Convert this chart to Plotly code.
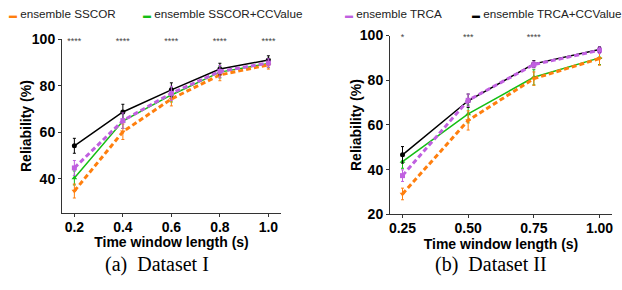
import plotly.graph_objects as go

# ---------------- data ----------------
series_names = ["ensemble SSCOR", "ensemble SSCOR+CCValue", "ensemble TRCA", "ensemble TRCA+CCValue"]

x_d1 = [0.2, 0.4, 0.6, 0.8, 1.0]
x_d1_ticklabels = ["0.2", "0.4", "0.6", "0.8", "1.0"]
d1_sscor = [34.8, 60.2, 74.3, 84.6, 88.9]
d1_sscor_cc = [40.4, 64.8, 76.0, 85.8, 89.5]
d1_trca = [44.7, 65.0, 76.7, 86.1, 89.7]
d1_trca_cc = [54.2, 68.7, 78.2, 87.1, 91.0]
d1_sscor_err = [3.0, 3.3, 3.0, 2.5, 1.8]
d1_sscor_cc_err = [3.0, 3.2, 3.0, 2.5, 1.8]
d1_trca_err = [3.2, 3.3, 3.0, 2.5, 1.8]
d1_trca_cc_err = [3.2, 3.3, 3.0, 2.5, 1.8]
d1_sig = ["****", "****", "****", "****", "****"]

x_d2 = [0.25, 0.50, 0.75, 1.00]
x_d2_ticklabels = ["0.25", "0.50", "0.75", "1.00"]
d2_sscor = [29.1, 62.0, 80.7, 89.7]
d2_sscor_cc = [43.6, 64.9, 81.3, 90.0]
d2_trca = [37.3, 71.0, 87.0, 93.4]
d2_trca_cc = [46.6, 70.8, 87.3, 93.7]
d2_sscor_err = [2.6, 4.3, 3.0, 3.0]
d2_sscor_cc_err = [3.0, 4.0, 3.4, 3.0]
d2_trca_err = [2.6, 2.8, 1.5, 1.5]
d2_trca_cc_err = [3.7, 3.0, 1.5, 1.3]
d2_sig = ["*", "***", "****", ""]

y_d1_ticks = [40, 60, 80, 100]
y_d2_ticks = [20, 40, 60, 80, 100]

x_title = "Time window length (s)"
y_title = "Reliability (%)"
captions = ["(a)  Dataset I", "(b)  Dataset II"]

# ---------------- style ----------------
W, H = 622, 290
colors = ["#FF7F0E", "#14BE14", "#C060E0", "#000000"]
symbols = ["triangle-down", "triangle-up", "square", "circle"]
dashes = ["5px,3px", "solid", "5px,3px", "solid"]
widths = [3, 1.5, 3, 1.5]
draw_order = [1, 0, 3, 2]

SANS = "Liberation Sans, Arial, Helvetica, sans-serif"
SERIF = "Liberation Serif, Times New Roman, serif"

fig = go.Figure()

panels = [
    (x_d1, [d1_sscor, d1_sscor_cc, d1_trca, d1_trca_cc],
     [d1_sscor_err, d1_sscor_cc_err, d1_trca_err, d1_trca_cc_err], d1_sig, "x", "y", 99.0),
    (x_d2, [d2_sscor, d2_sscor_cc, d2_trca, d2_trca_cc],
     [d2_sscor_err, d2_sscor_cc_err, d2_trca_err, d2_trca_cc_err], d2_sig, "x2", "y2", 98.9),
]

for xs, ys_all, errs_all, sig, xa, ya, sig_y in panels:
    for i in draw_order:
        fig.add_trace(go.Scatter(
            x=xs, y=ys_all[i], name=series_names[i],
            mode="lines+markers",
            line=dict(color=colors[i], width=widths[i], dash=dashes[i]),
            marker=dict(symbol=symbols[i], size=5, color=colors[i]),
            error_y=dict(type="data", array=errs_all[i], visible=True,
                         color=colors[i], thickness=1, width=1.5),
            xaxis=xa, yaxis=ya, showlegend=False, cliponaxis=False,
        ))
    fig.add_trace(go.Scatter(
        x=xs, y=[sig_y] * len(xs), text=sig, mode="text",
        textposition="middle center",
        textfont=dict(family=SANS, size=9, color="#444444"),
        xaxis=xa, yaxis=ya, showlegend=False, cliponaxis=False, hoverinfo="skip",
    ))

axis_common = dict(
    showgrid=False, zeroline=False, showline=True, linecolor="#333333", linewidth=1,
    ticks="outside", ticklen=3, tickcolor="#333333", tickwidth=1,
    tickfont=dict(family=SANS, size=14, color="#000000", weight="bold"),
    fixedrange=True, automargin=False,
)
title_font = dict(family=SANS, size=14, color="#000000", weight="bold")

fig.update_layout(
    width=W, height=H,
    margin=dict(l=0, r=0, t=0, b=0, autoexpand=False),
    paper_bgcolor="white", plot_bgcolor="white",
    showlegend=False,
    xaxis=dict(**axis_common, domain=[62 / W, 281 / W], range=[0.149, 1.052],
               tickvals=x_d1, ticktext=x_d1_ticklabels, anchor="y", ticklabelstandoff=-2,
               title=dict(text=x_title, font=title_font, standoff=0)),
    yaxis=dict(**axis_common, domain=[1 - 212.7 / H, 1 - 39 / H], range=[25.5, 100],
               tickvals=y_d1_ticks, anchor="x"),
    xaxis2=dict(**axis_common, domain=[390 / W, 612 / W], range=[0.2024, 1.0476],
                tickvals=x_d2, ticktext=x_d2_ticklabels, anchor="y2", ticklabelstandoff=-2,
                title=dict(text=x_title, font=title_font, standoff=0)),
    yaxis2=dict(**axis_common, domain=[1 - 214.3 / H, 1 - 35.5 / H], range=[20, 100],
                tickvals=y_d2_ticks, anchor="x2"),
)

# y-axis titles
for tx, ty in [(26, 126), (356, 125)]:
    fig.add_annotation(
        x=tx / W, y=1 - ty / H, xref="paper", yref="paper",
        xanchor="center", yanchor="middle", showarrow=False, textangle=-90,
        text=y_title, font=title_font,
    )

# legend row (text entries with a coloured key glyph)
legend_x = [7, 141, 343, 470]
for name, c, lx in zip(series_names, colors, legend_x):
    fig.add_annotation(
        x=lx / W, y=1 - 14 / H, xref="paper", yref="paper",
        xanchor="left", yanchor="middle", showarrow=False,
        text=f"<span style='color:{c};font-size:8px'>▬</span> {name}",
        font=dict(family=SANS, size=11.7, color="#222222"),
    )

# captions
for cap, cx in zip(captions, [157, 491]):
    fig.add_annotation(
        x=cx / W, y=1 - 264 / H, xref="paper", yref="paper",
        xanchor="center", yanchor="middle", showarrow=False,
        text=cap, font=dict(family=SERIF, size=20, color="#000000"),
    )

fig.write_html(
    "out.html",
    config={"displayModeBar": False, "staticPlot": True},
    post_script="document.body.style.margin='0';document.body.style.overflow='hidden';",
)
